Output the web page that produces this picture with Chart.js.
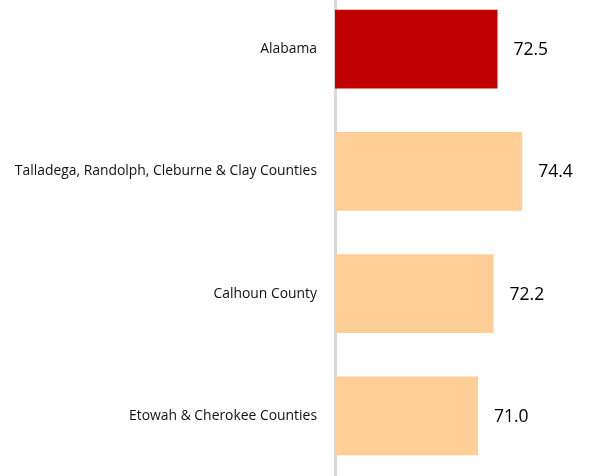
<!DOCTYPE html>
<html>
<head>
<meta charset="utf-8">
<script src="https://cdn.jsdelivr.net/npm/chart.js@4/dist/chart.umd.min.js"></script>
<style>
  html, body { margin: 0; padding: 0; background: #fff; overflow: hidden; width: 593px; height: 476px; }
  #wrap { position: absolute; left: 0; top: -12px; width: 595px; height: 489px; }
</style>
</head>
<body>
<div id="wrap"><canvas id="c"></canvas></div>
<script>
const categories = [
  "Alabama",
  "Talladega, Randolph, Cleburne & Clay Counties",
  "Calhoun County",
  "Etowah & Cherokee Counties"
];
const values = [72.5, 74.4, 72.2, 71.0];
const barColors = ["#C00000", "#FFCF97", "#FFCF97", "#FFCF97"];
const axisMin = 60;
const axisMax = 80;

const valueLabels = {
  id: 'valueLabels',
  afterDatasetsDraw(chart) {
    const ctx = chart.ctx;
    const meta = chart.getDatasetMeta(0);
    ctx.save();
    ctx.font = '17.5px "Open Sans"';
    ctx.fillStyle = '#000';
    ctx.textAlign = 'left';
    ctx.textBaseline = 'middle';
    meta.data.forEach((bar, i) => {
      ctx.fillText(values[i].toFixed(1), bar.x + 16, bar.y + 1);
    });
    ctx.restore();
  }
};

new Chart(document.getElementById('c'), {
  type: 'bar',
  data: {
    labels: categories,
    datasets: [{
      data: values,
      backgroundColor: barColors,
      borderWidth: 0,
      categoryPercentage: 1,
      barPercentage: 0.643
    }]
  },
  options: {
    indexAxis: 'y',
    responsive: true,
    maintainAspectRatio: false,
    animation: false,
    layout: { padding: 0 },
    plugins: { legend: { display: false }, tooltip: { enabled: false } },
    scales: {
      x: {
        display: false,
        min: axisMin,
        max: axisMax
      },
      y: {
        afterFit(scale) {
          scale.width = 335;
          scale.paddingTop = 0;
          scale.paddingBottom = 0;
        },
        grid: { display: false, drawTicks: false },
        border: { display: true, color: '#D9D9D9', width: 3 },
        ticks: {
          padding: 18,
          color: '#111',
          font: { family: 'Open Sans', size: 13.9 }
        }
      }
    }
  },
  plugins: [valueLabels]
});
</script>
</body>
</html>
